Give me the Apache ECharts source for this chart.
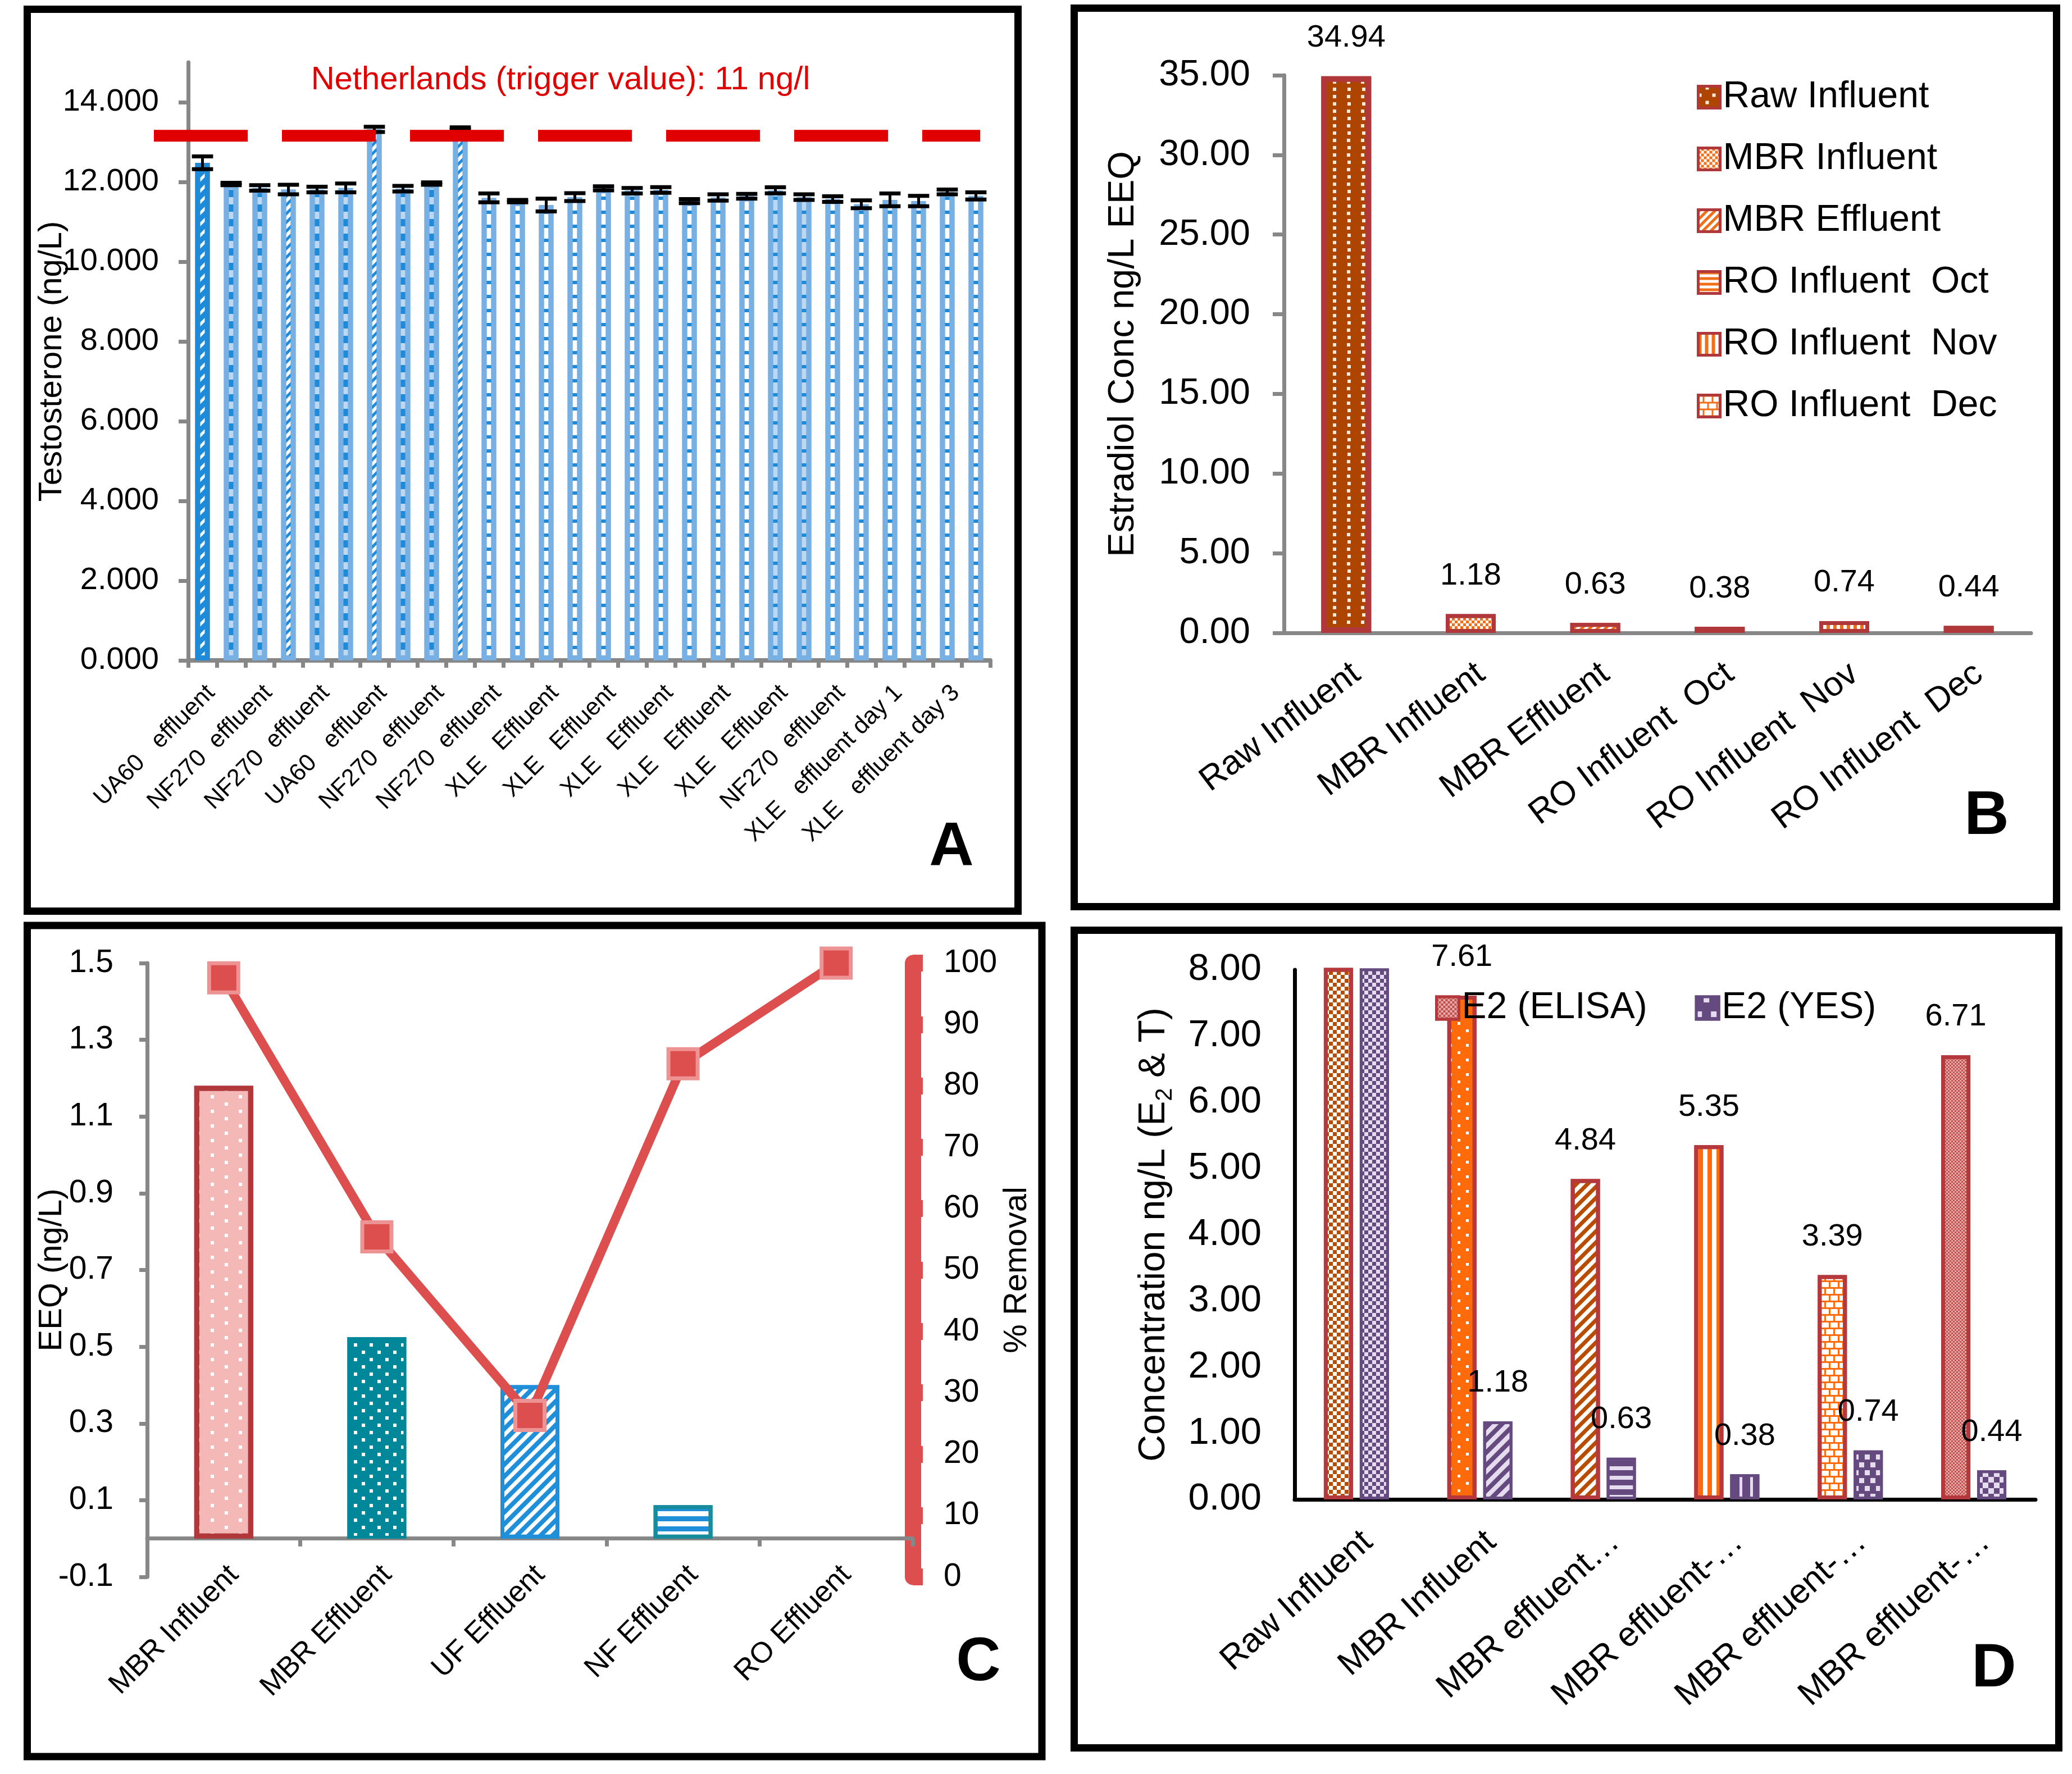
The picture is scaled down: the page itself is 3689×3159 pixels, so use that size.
<!DOCTYPE html>
<html><head><meta charset="utf-8">
<script src="https://cdn.jsdelivr.net/npm/echarts@6/dist/echarts.min.js"></script>
<style>html,body{margin:0;padding:0;background:#fff}#c{width:3689px;height:3159px}</style>
</head><body><div id="c"></div>
<script>
// ================= DATA =================
// Panel A
const aCategories = ['UA60   effluent','UA60   effluent','NF270  effluent','NF270  effluent','NF270  effluent','NF270  effluent',
  'UA60   effluent','UA60   effluent','NF270  effluent','NF270  effluent','NF270  effluent','NF270  effluent',
  'XLE   Effluent','XLE   Effluent','XLE   Effluent','XLE   Effluent','XLE   Effluent','XLE   Effluent',
  'XLE   Effluent','XLE   Effluent','XLE   Effluent','XLE   Effluent','NF270  effluent','NF270  effluent',
  'XLE   effluent day 1','XLE   effluent day 1','XLE   effluent day 3','XLE   effluent day 3'];
const aValues = [12.48,11.95,11.85,11.81,11.81,11.85,13.32,11.83,11.96,13.34,11.60,11.52,11.42,11.62,
  11.84,11.78,11.80,11.52,11.61,11.64,11.79,11.62,11.57,11.44,11.55,11.52,11.75,11.65];
const aErrors = [0.16,0.03,0.07,0.12,0.07,0.11,0.065,0.07,0.03,0.03,0.11,0.03,0.16,0.10,
  0.05,0.07,0.07,0.05,0.08,0.06,0.075,0.07,0.07,0.10,0.16,0.13,0.06,0.09];
const aTicks = [0,2,4,6,8,10,12,14];
const aTrigger = 13.16;
const aTriggerText = 'Netherlands (trigger value): 11 ng/l';

// Panel B
const bCategories = ['Raw Influent','MBR Influent','MBR Effluent','RO Influent  Oct','RO Influent  Nov','RO Influent  Dec'];
const bValues = [34.94,1.18,0.63,0.38,0.74,0.44];

// Panel C
const cCategories = ['MBR Influent','MBR Effluent','UF Effluent','NF Effluent','RO Effluent'];
const cEEQ = [1.18,0.525,0.40,0.087,0];
const cRemoval = [97.6,55.4,26.3,83.6,100];
const cTicks = [-0.1,0.1,0.3,0.5,0.7,0.9,1.1,1.3,1.5];

// Panel D
const dCategories = ['Raw Influent','MBR Influent','MBR effluent\u2026','MBR effluent-\u2026','MBR effluent-\u2026','MBR effluent-\u2026'];
const dElisa = [12.0,7.61,4.84,5.35,3.39,6.71];   // raw influent off-scale
const dYes = [34.94,1.18,0.63,0.38,0.74,0.44];     // raw influent off-scale
const dMax = 8;

// ================= STYLE HELPERS =================
const FONT = 'Liberation Sans';
function hStripe(color,on,off){return {symbol:'rect',symbolSize:1,color:color,dashArrayX:[1,0],dashArrayY:[on,off],rotation:0};}
function vStripe(color,on,off){return {symbol:'rect',symbolSize:1,color:color,dashArrayX:[on,off],dashArrayY:[1,0],rotation:0};}
function diag(color,on,off){return {symbol:'rect',symbolSize:1,color:color,dashArrayX:[1,0],dashArrayY:[on,off],rotation:-Math.PI/4};}
function dots(color,s,gx,gy){return {symbol:'rect',symbolSize:1,color:color,dashArrayX:[[s,gx-s],[0,gx/2,s,gx/2-s]],dashArrayY:[s,gy-s],rotation:0};}
function check(color,s){return {symbol:'rect',symbolSize:1,color:color,dashArrayX:[[s,s],[0,s,s,0]],dashArrayY:[s,0],rotation:0};}
function brick(color){return {symbol:'rect',symbolSize:1,color:color,dashArrayX:[[1,0],[3,13],[1,0],[0,8,3,5]],dashArrayY:[3,0,9,0],rotation:0};}

const darkBlue='#1f8bd8', lightBlue='#78b0e4', paleBlue='#bcd8f3';
function aStyle(i){
  if(i===0) return {color:darkBlue,borderColor:darkBlue,borderWidth:9,decal:diag('#ffffff',5,9)};
  if(i===3||i===6||i===9) return {color:'#ffffff',borderColor:lightBlue,borderWidth:9,decal:diag(darkBlue,5,6)};
  if(i<10) return {color:paleBlue,borderColor:lightBlue,borderWidth:9,decal:hStripe(darkBlue,13,13)};
  if(i===20||i===21) return {color:paleBlue,borderColor:lightBlue,borderWidth:9,decal:hStripe(darkBlue,6,19)};
  return {color:'#ffffff',borderColor:lightBlue,borderWidth:9,decal:hStripe(darkBlue,6,19)};
}
const redB='#b0383a', orange='#f0701a';
const bStyles=[
  {color:'#ad4500',borderColor:redB,borderWidth:10,decal:dots('#fde9d9',6,25,12.5)},
  {color:'#ffffff',borderColor:redB,borderWidth:7,decal:check(orange,5)},
  {color:'#ffffff',borderColor:redB,borderWidth:7,decal:diag(orange,5,5)},
  {color:'#ffffff',borderColor:redB,borderWidth:7,decal:hStripe(orange,5,5)},
  {color:'#ffffff',borderColor:redB,borderWidth:7,decal:vStripe(orange,6,6)},
  {color:'#ffffff',borderColor:redB,borderWidth:7,decal:brick(orange)}
];
const cStyles=[
  {color:'#f4b9b7',borderColor:redB,borderWidth:9,decal:dots('#ffffff',6,50,12.5)},
  {color:'#00879a',borderColor:'#00879a',borderWidth:5,decal:dots('#ffffff',6,28,13)},
  {color:'#ffffff',borderColor:'#1f8fd9',borderWidth:7,decal:diag('#1f8fd9',8,7)},
  {color:'#ffffff',borderColor:'#178c9c',borderWidth:7,decal:hStripe('#1f8fd9',9,9)},
  {color:'#ffffff',borderWidth:0}
];
const dRed='#b4383c', dOr='#ff6a0a', dBr='#b84c00', purple='#654a80', lav='#e6dcef';
const dElisaStyles=[
  {color:'#ffffff',borderColor:dRed,borderWidth:7,decal:check(dBr,7)},
  {color:dOr,borderColor:dRed,borderWidth:7,decal:dots('#ffffff',5,30,13)},
  {color:'#ffffff',borderColor:dRed,borderWidth:7,decal:diag(dBr,7,7)},
  {color:'#ffffff',borderColor:dRed,borderWidth:7,decal:vStripe(dOr,8,8)},
  {color:'#ffffff',borderColor:dRed,borderWidth:7,decal:brick(dOr)},
  {color:'#e8aaa9',borderColor:dRed,borderWidth:7,decal:check('#c0504d',3)}
];
const dYesStyles=[
  {color:purple,borderColor:purple,borderWidth:5,decal:check(lav,7)},
  {color:lav,borderColor:purple,borderWidth:5,decal:diag(purple,8,8)},
  {color:lav,borderColor:purple,borderWidth:5,decal:hStripe(purple,10,7)},
  {color:purple,borderColor:purple,borderWidth:5,decal:vStripe(lav,5,14)},
  {color:purple,borderColor:purple,borderWidth:5,decal:dots(lav,9,20,14)},
  {color:purple,borderColor:purple,borderWidth:5,decal:check(lav,10)}
];

const gray='#878787';
function axisLabelBase(fs,margin){return {fontSize:fs,margin:margin,color:'#000',fontFamily:FONT};}

// ================= OPTION =================
const chart = echarts.init(document.getElementById('c'), null, {renderer:'canvas'});
const option = {
  animation:false,
  backgroundColor:'#ffffff',
  textStyle:{fontFamily:FONT,color:'#000'},
  grid:[
    {left:335,top:111,right:1926,bottom:1983,outerBoundsMode:'none'},
    {left:2286,top:134,right:73,bottom:2032,outerBoundsMode:'none'},
    {left:262,top:1715,right:2064,bottom:351,outerBoundsMode:'none'},
    {left:2305,top:1727,right:65,bottom:489,outerBoundsMode:'none'}
  ],
  xAxis:[
    {type:'category',gridIndex:0,data:aCategories,
     axisLine:{lineStyle:{color:gray,width:8}},
     axisTick:{show:true,interval:0,length:13,lineStyle:{color:gray,width:7}},
     axisLabel:Object.assign(axisLabelBase(43,36),{interval:1,rotate:45,align:'right',verticalAlign:'top'}),
     splitLine:{show:false}},
    {type:'category',gridIndex:1,data:bCategories,
     axisLine:{lineStyle:{color:gray,width:7}},
     axisTick:{show:false},
     axisLabel:Object.assign(axisLabelBase(61,42),{interval:0,rotate:37,align:'right',verticalAlign:'top'}),
     splitLine:{show:false}},
    {type:'category',gridIndex:2,data:cCategories,
     axisLine:{onZero:true,onZeroAxisIndex:2,lineStyle:{color:gray,width:7}},
     axisTick:{show:true,length:14,lineStyle:{color:gray,width:7}},
     axisLabel:Object.assign(axisLabelBase(52,-30),{interval:0,rotate:45,align:'right',verticalAlign:'top'}),
     splitLine:{show:false}},
    {type:'category',gridIndex:3,data:dCategories,
     axisLine:{lineStyle:{color:'#000',width:7}},
     axisTick:{show:false},
     axisLabel:Object.assign(axisLabelBase(61,45),{interval:0,rotate:42,align:'right',verticalAlign:'top'}),
     splitLine:{show:false}}
  ],
  yAxis:[
    {type:'value',gridIndex:0,min:0,max:15,
     axisLine:{show:true,lineStyle:{color:gray,width:7}},
     axisTick:{show:true,length:17,customValues:aTicks,lineStyle:{color:gray,width:7}},
     axisLabel:Object.assign(axisLabelBase(56,52),{customValues:aTicks,formatter:v=>v.toFixed(3)}),
     splitLine:{show:false},
     name:'Testosterone (ng/L)',nameLocation:'middle',nameRotate:90,nameGap:213,nameMoveOverlap:false,
     nameTextStyle:{fontSize:58,color:'#000',fontFamily:FONT}},
    {type:'value',gridIndex:1,min:0,max:35,interval:5,
     axisLine:{show:true,lineStyle:{color:gray,width:7}},
     axisTick:{show:true,length:20,lineStyle:{color:gray,width:7}},
     axisLabel:Object.assign(axisLabelBase(65,60),{formatter:v=>v.toFixed(2)}),
     splitLine:{show:false},
     name:'Estradiol Conc ng/L EEQ',nameLocation:'middle',nameRotate:90,nameGap:253,nameMoveOverlap:false,
     nameTextStyle:{fontSize:65,color:'#000',fontFamily:FONT}},
    {type:'value',gridIndex:2,min:-0.1,max:1.5,
     axisLine:{show:true,onZero:false,lineStyle:{color:gray,width:7}},
     axisTick:{show:true,length:14,customValues:cTicks,lineStyle:{color:gray,width:7}},
     axisLabel:Object.assign(axisLabelBase(57,60),{customValues:cTicks,formatter:v=>v.toFixed(1)}),
     splitLine:{show:false},
     name:'EEQ (ng/L)',nameLocation:'middle',nameRotate:90,nameGap:140,nameMoveOverlap:false,
     nameTextStyle:{fontSize:58,color:'#000',fontFamily:FONT}},
    {type:'value',gridIndex:2,position:'right',min:0,max:100,interval:10,
     axisLine:{show:true,onZero:false,lineStyle:{color:'#dd4f4f',width:29}},
     axisTick:{show:true,length:18,lineStyle:{color:'#dd4f4f',width:30}},
     axisLabel:axisLabelBase(57,55),
     splitLine:{show:false},
     name:'% Removal',nameLocation:'middle',nameRotate:90,nameGap:157,nameMoveOverlap:false,
     nameTextStyle:{fontSize:58,color:'#000',fontFamily:FONT}},
    {type:'value',gridIndex:3,min:0,max:dMax,interval:1,
     axisLine:{show:true,lineStyle:{color:'#000',width:7}},
     axisTick:{show:false},
     axisLabel:Object.assign(axisLabelBase(67,59),{formatter:v=>v.toFixed(2)}),
     splitLine:{show:false},
     name:'{a|Concentration ng/L (E}{s|2}{a| & T)}',nameLocation:'middle',nameRotate:90,nameGap:210,nameMoveOverlap:false,
     nameTextStyle:{fontSize:66,color:'#000',fontFamily:FONT,
       rich:{a:{fontSize:66,lineHeight:80,color:'#000',fontFamily:FONT},
             s:{fontSize:42,lineHeight:44,verticalAlign:'bottom',color:'#000',fontFamily:FONT}}}}
  ],
  legend:[
    {left:3016,top:135,orient:'vertical',itemWidth:39,itemHeight:39,itemGap:44,icon:'rect',
     selectedMode:false,data:bCategories,itemStyle:{borderWidth:5},
     textStyle:{fontSize:66,lineHeight:66,color:'#000',fontFamily:FONT}},
    {left:2550,top:1757,orient:'horizontal',itemWidth:40,itemHeight:40,itemGap:85,icon:'rect',
     selectedMode:false,data:['E2 (ELISA)','E2 (YES)'],itemStyle:{borderWidth:5},
     textStyle:{fontSize:66,lineHeight:66,color:'#000',fontFamily:FONT}}
  ],
  series:[]
};

// Panel A bars + error bars
option.series.push({type:'bar',xAxisIndex:0,yAxisIndex:0,barWidth:26,
  data:aValues.map((v,i)=>({value:v,itemStyle:aStyle(i)}))});
option.series.push({type:'custom',xAxisIndex:0,yAxisIndex:0,z:10,
  data:aValues.map((v,i)=>[i,v,aErrors[i]]),
  renderItem:function(params,api){
    const x=api.value(0),v=api.value(1),e=api.value(2);
    const t=api.coord([x,v+e]), b=api.coord([x,v-e]);
    const w=api.size([1,0])[0]*0.74;
    return {type:'group',children:[
      {type:'line',shape:{x1:t[0],y1:t[1],x2:b[0],y2:b[1]},style:{stroke:'#000',lineWidth:5}},
      {type:'line',shape:{x1:t[0]-w/2,y1:t[1],x2:t[0]+w/2,y2:t[1]},style:{stroke:'#000',lineWidth:7}},
      {type:'line',shape:{x1:b[0]-w/2,y1:b[1],x2:b[0]+w/2,y2:b[1]},style:{stroke:'#000',lineWidth:7}}
    ]};
  }});

// Panel B: one series per category (stacked so each is centred)
bCategories.forEach((name,i)=>{
  option.series.push({name:name,type:'bar',xAxisIndex:1,yAxisIndex:1,stack:'b',barWidth:89,
    itemStyle:bStyles[i],
    data:bValues.map((v,j)=>j===i?v:'-'),
    label:{show:true,position:'top',distance:40,fontSize:56,color:'#000',fontFamily:FONT,formatter:p=>Number(p.value).toFixed(2)}});
});

// Panel C
option.series.push({type:'bar',xAxisIndex:2,yAxisIndex:2,barWidth:105,
  data:cEEQ.map((v,i)=>({value:v,itemStyle:cStyles[i]}))});
option.series.push({type:'line',xAxisIndex:2,yAxisIndex:3,data:cRemoval,z:5,
  symbol:'rect',symbolSize:52,
  lineStyle:{color:'#dd4f4f',width:16},
  itemStyle:{color:'#dd4f4f',borderColor:'#ee9393',borderWidth:7}});

// Panel D
const dLabel={show:true,position:'top',distance:40,fontSize:56,color:'#000',fontFamily:FONT,
  formatter:p=>p.value>dMax?'':Number(p.value).toFixed(2)};
option.series.push({name:'E2 (ELISA)',type:'bar',xAxisIndex:3,yAxisIndex:4,barWidth:52,barGap:'23%',
  itemStyle:{color:'#e8aaa9',borderColor:dRed,borderWidth:7,decal:check('#c0504d',4)},
  data:dElisa.map((v,i)=>({value:v,itemStyle:dElisaStyles[i]})),label:dLabel});
option.series.push({name:'E2 (YES)',type:'bar',xAxisIndex:3,yAxisIndex:4,barWidth:52,barGap:'23%',
  itemStyle:{color:purple,borderColor:purple,borderWidth:5,decal:dots(lav,10,26,26)},
  data:dYes.map((v,i)=>({value:v,itemStyle:dYesStyles[i]})),label:dLabel});

// Frames, panel letters, annotation text
const frames=[[48.5,16.5,1764,1606],[1912.5,14.5,1749,1600],[48.5,1648,1806.5,1480],[1912.5,1656.5,1753,1456]];
const letters=[['A',1694,1510],['B',3537,1455],['C',1742,2962],['D',3550,2973]];
const graphics=[];
frames.forEach((f,i)=>graphics.push({type:'rect',id:'frame'+i,shape:{x:f[0],y:f[1],width:f[2],height:f[3]},
  style:{fill:null,stroke:'#000',lineWidth:13},z:100}));
letters.forEach((l,i)=>graphics.push({type:'text',id:'let'+i,x:l[1],y:l[2],
  style:{text:l[0],font:'bold 110px "Liberation Sans"',fill:'#000',align:'center',verticalAlign:'middle'},z:100}));
graphics.push({type:'text',id:'trigTxt',x:998,y:143,
  style:{text:aTriggerText,font:'58px "Liberation Sans"',fill:'#e00000',align:'center',verticalAlign:'middle'},z:100});
option.graphic={elements:graphics};
chart.setOption(option);

// Trigger line: y derived from the axis scale
const yTrig = chart.convertToPixel({yAxisIndex:0}, aTrigger);
const gA = chart.getModel().getComponent('grid',0).coordinateSystem.getRect();
chart.setOption({graphic:{elements:[{type:'line',id:'trig',
  shape:{x1:gA.x-61,y1:yTrig,x2:gA.x+gA.width-18,y2:yTrig},
  style:{stroke:'#e00000',lineWidth:21,lineDash:[167,61]},z:50}]}});
</script></body></html>
